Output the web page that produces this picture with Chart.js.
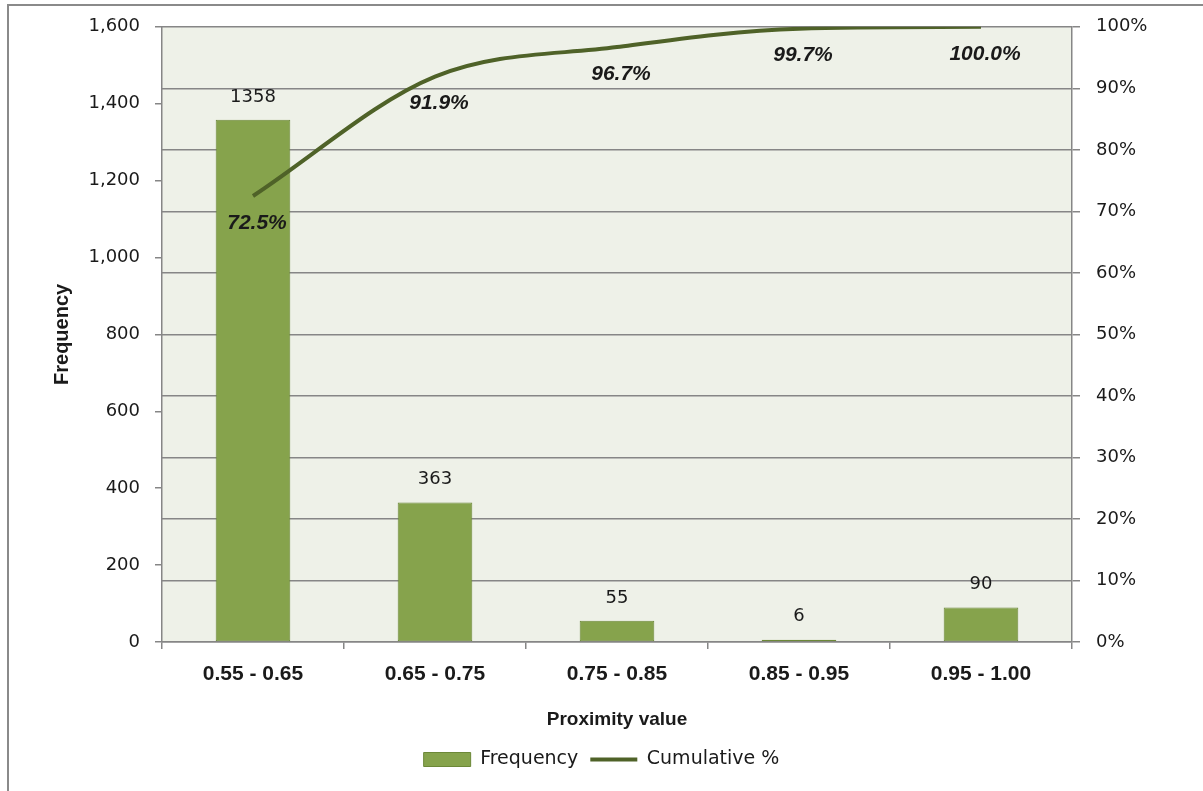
<!DOCTYPE html>
<html>
<head>
<meta charset="utf-8">
<script src="https://cdn.jsdelivr.net/npm/chart.js@4/dist/chart.umd.min.js"></script>
<style>
  html, body { margin: 0; padding: 0; background: #ffffff; }
  canvas { display: block; }
</style>
</head>
<body>
<canvas id="pareto" width="1203" height="791"></canvas>
<script>
// Proximity value bins and their counts
const categories = ['0.55 - 0.65', '0.65 - 0.75', '0.75 - 0.85', '0.85 - 0.95', '0.95 - 1.00'];
const frequency = [1358, 363, 55, 6, 90];
const cumulativePct = [72.5, 91.9, 96.7, 99.7, 100.0];

// Axis ranges
const freqMax = 1600, freqStep = 200;
const pctMax = 100, pctStep = 10;

const BAR_FILL = '#86a34c';
const BAR_EDGE = '#6c8838';
const LINE_COLOR = '#4f6228';
const AXIS_GRAY = '#868686';
const TEXT = '#1a1a1a';
const REGULAR = '"DejaVu Sans", Verdana, sans-serif';
const BOLD = '"Liberation Sans", Arial, sans-serif';

// Plot-area fill and outer frame
const frame = {
  id: 'frame',
  beforeDraw(chart) {
    const { ctx, chartArea: a } = chart;
    ctx.save();
    ctx.fillStyle = '#ffffff';
    ctx.fillRect(0, 0, chart.width, chart.height);
    ctx.fillStyle = '#eef1e8';
    ctx.fillRect(a.left, a.top, a.right - a.left, a.bottom - a.top);
    ctx.restore();
  },
  afterDraw(chart) {
    const { ctx } = chart;
    ctx.save();
    ctx.strokeStyle = '#8a8a8a';
    ctx.lineWidth = 2;
    ctx.beginPath();
    ctx.moveTo(8, chart.height + 2);
    ctx.lineTo(8, 5);
    ctx.lineTo(chart.width + 2, 5);
    ctx.stroke();
    ctx.restore();
  }
};

// Value labels: counts above the bars, cumulative share below the curve
const valueLabels = {
  id: 'valueLabels',
  afterDatasetsDraw(chart) {
    const { ctx } = chart;
    ctx.save();
    ctx.textAlign = 'center';
    ctx.textBaseline = 'middle';
    ctx.fillStyle = TEXT;

    const bars = chart.getDatasetMeta(0).data;
    ctx.font = '18px ' + REGULAR;
    bars.forEach((el, i) => {
      ctx.fillText(String(frequency[i]), el.x, el.y - 23);
    });

    const pts = chart.getDatasetMeta(1).data;
    ctx.font = 'italic bold 21px ' + BOLD;
    pts.forEach((el, i) => {
      ctx.fillText(cumulativePct[i].toFixed(1) + '%', el.x + 4, el.y + 27);
    });
    ctx.restore();
  }
};

new Chart(document.getElementById('pareto'), {
  type: 'bar',
  data: {
    labels: categories,
    datasets: [
      {
        type: 'bar',
        label: 'Frequency',
        data: frequency,
        yAxisID: 'y',
        backgroundColor: BAR_FILL,
        borderColor: BAR_EDGE,
        borderWidth: 1,
        borderSkipped: false,
        categoryPercentage: 1,
        barPercentage: 0.41,
        order: 1
      },
      {
        type: 'line',
        label: 'Cumulative %',
        data: cumulativePct,
        yAxisID: 'y1',
        borderColor: LINE_COLOR,
        backgroundColor: LINE_COLOR,
        borderWidth: 4,
        pointRadius: 0,
        cubicInterpolationMode: 'monotone',
        fill: false,
        order: 0
      }
    ]
  },
  options: {
    responsive: false,
    animation: false,
    devicePixelRatio: 1,
    layout: { padding: { top: 25, left: 0, right: 0, bottom: 12 } },
    font: { family: REGULAR, size: 18 },
    scales: {
      x: {
        offset: true,
        grid: { offset: true, drawOnChartArea: false, drawTicks: true, tickLength: 7, color: AXIS_GRAY, lineWidth: 1.5 },
        border: { display: true, color: AXIS_GRAY, width: 1.5 },
        ticks: { color: TEXT, padding: 13, font: { family: BOLD, size: 21, weight: 'bold' } },
        title: {
          display: true,
          text: 'Proximity value',
          color: TEXT,
          font: { family: BOLD, size: 19, weight: 'bold' },
          padding: { top: 0, bottom: 7 }
        },
        afterFit(scale) { scale.height = 96; }
      },
      y: {
        position: 'left',
        min: 0,
        max: freqMax,
        grid: { drawOnChartArea: false, drawTicks: true, tickLength: 7, color: AXIS_GRAY, lineWidth: 1.5 },
        border: { display: true, color: AXIS_GRAY, width: 1.5 },
        ticks: {
          stepSize: freqStep,
          color: TEXT,
          padding: 15,
          font: { family: REGULAR, size: 18 },
          callback: v => Number(v).toLocaleString('en-US')
        },
        title: {
          display: true,
          text: 'Frequency',
          color: TEXT,
          font: { family: BOLD, size: 20, weight: 'bold' },
          padding: { top: 50, bottom: 0 }
        },
        afterFit(scale) { scale.width = 162; }
      },
      y1: {
        position: 'right',
        min: 0,
        max: pctMax,
        grid: { drawOnChartArea: true, drawTicks: true, tickLength: 8, color: AXIS_GRAY, lineWidth: 1.5 },
        border: { display: true, color: AXIS_GRAY, width: 1.5 },
        ticks: {
          stepSize: pctStep,
          color: TEXT,
          padding: 16,
          font: { family: REGULAR, size: 18 },
          callback: v => Math.round(v) + '%'
        },
        afterFit(scale) { scale.width = 131; }
      }
    },
    plugins: {
      title: { display: false },
      tooltip: { enabled: false },
      legend: {
        display: true,
        position: 'bottom',
        labels: {
          color: TEXT,
          font: { family: REGULAR, size: 19 },
          usePointStyle: true,
          pointStyleWidth: 47,
          boxWidth: 47,
          boxHeight: 14,
          padding: 12,
          generateLabels(chart) {
            const items = Chart.defaults.plugins.legend.labels.generateLabels(chart);
            items.sort((a, b) => a.datasetIndex - b.datasetIndex);
            items.forEach(it => {
              if (it.datasetIndex === 0) {
                it.pointStyle = 'rect';
                it.fillStyle = BAR_FILL;
                it.strokeStyle = BAR_EDGE;
                it.lineWidth = 1;
              } else {
                it.pointStyle = 'line';
                it.strokeStyle = LINE_COLOR;
                it.lineWidth = 4;
              }
            });
            return items;
          }
        }
      }
    }
  },
  plugins: [frame, valueLabels]
});
</script>
</body>
</html>
